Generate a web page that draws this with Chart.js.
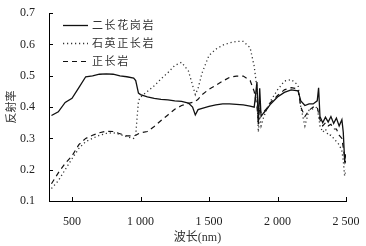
<!DOCTYPE html>
<html>
<head>
<meta charset="utf-8">
<script src="https://cdn.jsdelivr.net/npm/chart.js@4"></script>
<style>
    html, body { margin: 0; padding: 0; background: #fff; }
    .wrap { width: 366px; height: 246px; }
</style>
</head>
<body>
<div class="wrap"><canvas id="plot" width="366" height="246"></canvas></div>
<script>
const wavelengths = [350, 400, 450, 500, 550, 600, 650, 700, 750, 800, 850, 900, 950, 965, 985, 1000,
    1050, 1100, 1150, 1200, 1250, 1300, 1350, 1380, 1400, 1420,
    1450, 1500, 1550, 1600, 1650, 1700, 1750, 1800, 1830, 1850, 1860, 1870, 1880,
    1900, 1920, 1950, 2000, 2050, 2100, 2150, 2170, 2200, 2230, 2260, 2290,
    2300, 2310, 2330, 2350, 2370, 2390, 2410, 2430, 2450, 2470, 2480, 2490, 2500];

const granite = [0.373, 0.385, 0.415, 0.428, 0.462, 0.497, 0.500, 0.505, 0.506, 0.505, 0.500, 0.497, 0.493, 0.485, 0.445, 0.440,
    0.433, 0.428, 0.425, 0.423, 0.420, 0.418, 0.413, 0.400, 0.375, 0.392,
    0.396, 0.402, 0.407, 0.410, 0.410, 0.409, 0.407, 0.403, 0.400, 0.480, 0.345, 0.460, 0.370,
    0.382, 0.392, 0.410, 0.432, 0.447, 0.455, 0.452, 0.420, 0.405, 0.410, 0.410, 0.420,
    0.462, 0.370, 0.350, 0.368, 0.352, 0.370, 0.348, 0.365, 0.340, 0.360, 0.320, 0.230, 0.250];

const quartzSyenite = [0.140, 0.165, 0.200, 0.235, 0.268, 0.290, 0.300, 0.310, 0.316, 0.318, 0.313, 0.305, 0.300, 0.310, 0.420, 0.432,
    0.450, 0.468, 0.490, 0.510, 0.533, 0.543, 0.515, 0.470, 0.440, 0.460,
    0.510, 0.565, 0.585, 0.598, 0.605, 0.610, 0.610, 0.590, 0.530, 0.460, 0.320, 0.370, 0.340,
    0.370, 0.390, 0.420, 0.455, 0.483, 0.488, 0.470, 0.400, 0.340, 0.390, 0.395, 0.400,
    0.370, 0.340, 0.320, 0.330, 0.310, 0.310, 0.300, 0.290, 0.280, 0.260, 0.230, 0.180, 0.200];

const syenite = [0.155, 0.190, 0.220, 0.244, 0.280, 0.300, 0.310, 0.318, 0.323, 0.322, 0.315, 0.308, 0.308, 0.310, 0.315, 0.318,
    0.322, 0.338, 0.357, 0.375, 0.393, 0.405, 0.412, 0.415, 0.418, 0.425,
    0.440, 0.457, 0.470, 0.483, 0.495, 0.499, 0.499, 0.485, 0.450, 0.400, 0.360, 0.400, 0.380,
    0.385, 0.395, 0.415, 0.437, 0.455, 0.462, 0.458, 0.400, 0.370, 0.390, 0.400, 0.400,
    0.380, 0.360, 0.340, 0.350, 0.340, 0.345, 0.330, 0.330, 0.310, 0.300, 0.270, 0.240, 0.220];

const seriesNames = ["二长花岗岩", "石英正长岩", "正长岩"];
const xTicks = [500, 1000, 1500, 2000, 2500];
const yTicks = [0.1, 0.2, 0.3, 0.4, 0.5, 0.6, 0.7];

const SERIF = "'Liberation Serif', 'Noto Sans CJK SC', serif";
const CJK = "'Noto Sans CJK SC', sans-serif";

function fmtThousands(v) {
    if (v < 1000) return String(v);
    return Math.floor(v / 1000) + " " + String(v % 1000).padStart(3, "0");
}

const toPoints = ys => ys.map((y, i) => ({ x: wavelengths[i], y: y }));

const styles = [
    { color: "#111", dash: [], width: 1.3 },
    { color: "#333", dash: [1.2, 2.8], width: 1.3 },
    { color: "#111", dash: [5, 4], width: 1.2 },
];

// inward tick marks + legend inside the plot
const extras = {
    id: "extras",
    afterDraw(chart) {
        const ctx = chart.ctx;
        const xs = chart.scales.x, ys = chart.scales.y;
        const area = chart.chartArea;
        ctx.save();
        ctx.strokeStyle = "#000";
        ctx.lineWidth = 1;
        ctx.beginPath();
        for (const t of xTicks) {
            const px = Math.round(xs.getPixelForValue(t)) + 0.5;
            ctx.moveTo(px, area.bottom);
            ctx.lineTo(px, area.bottom - 4);
        }
        for (const t of yTicks) {
            const py = Math.round(ys.getPixelForValue(t)) + 0.5;
            ctx.moveTo(area.left, py);
            ctx.lineTo(area.left + 4, py);
        }
        ctx.stroke();

        const rows = [25, 43, 61];
        seriesNames.forEach((name, i) => {
            const st = styles[i];
            ctx.beginPath();
            ctx.strokeStyle = st.color;
            ctx.lineWidth = st.width;
            ctx.setLineDash(st.dash);
            ctx.moveTo(63, rows[i] + 0.5);
            ctx.lineTo(88, rows[i] + 0.5);
            ctx.stroke();
            ctx.setLineDash([]);
            ctx.fillStyle = "#333";
            ctx.font = "11px " + CJK;
            ctx.textBaseline = "middle";
            ctx.textAlign = "left";
            [...name].forEach((ch, k) => ctx.fillText(ch, 92 + k * 12.6, rows[i]));
        });
        ctx.restore();
    }
};

new Chart(document.getElementById("plot"), {
    type: "line",
    data: {
        datasets: [granite, quartzSyenite, syenite].map((vals, i) => ({
            label: seriesNames[i],
            data: toPoints(vals),
            borderColor: styles[i].color,
            borderWidth: styles[i].width,
            borderDash: styles[i].dash,
            pointRadius: 0,
            tension: 0,
            fill: false,
        })),
    },
    options: {
        responsive: false,
        animation: false,
        devicePixelRatio: 1,
        layout: { padding: { top: 11, right: 20, left: 0, bottom: 0 } },
        plugins: { legend: { display: false }, tooltip: { enabled: false } },
        scales: {
            x: {
                type: "linear",
                min: 332,
                max: 2500,
                afterBuildTicks: s => { s.ticks = xTicks.map(v => ({ value: v })); },
                afterFit: s => { s.height = 45; },
                grid: { display: false },
                border: { display: true, color: "#000", width: 1 },
                ticks: {
                    color: "#222",
                    font: { family: SERIF, size: 12 },
                    padding: 6,
                    maxRotation: 0,
                    callback: v => fmtThousands(v),
                },
                title: {
                    display: true,
                    text: "波长(nm)",
                    color: "#333",
                    font: { family: SERIF, size: 12 },
                    padding: { top: 0, bottom: 1 },
                },
            },
            y: {
                min: 0.1,
                max: 0.7,
                afterBuildTicks: s => { s.ticks = yTicks.map(v => ({ value: v })); },
                afterFit: s => { s.width = 49; },
                grid: { display: false },
                border: { display: true, color: "#000", width: 1 },
                ticks: {
                    color: "#222",
                    font: { family: SERIF, size: 12 },
                    padding: 6,
                    callback: v => v.toFixed(1),
                },
                title: {
                    display: true,
                    text: "反射率",
                    color: "#333",
                    font: { family: CJK, size: 11 },
                    padding: { top: 4, bottom: 0 },
                },
            },
        },
    },
    plugins: [extras],
});
</script>
</body>
</html>
